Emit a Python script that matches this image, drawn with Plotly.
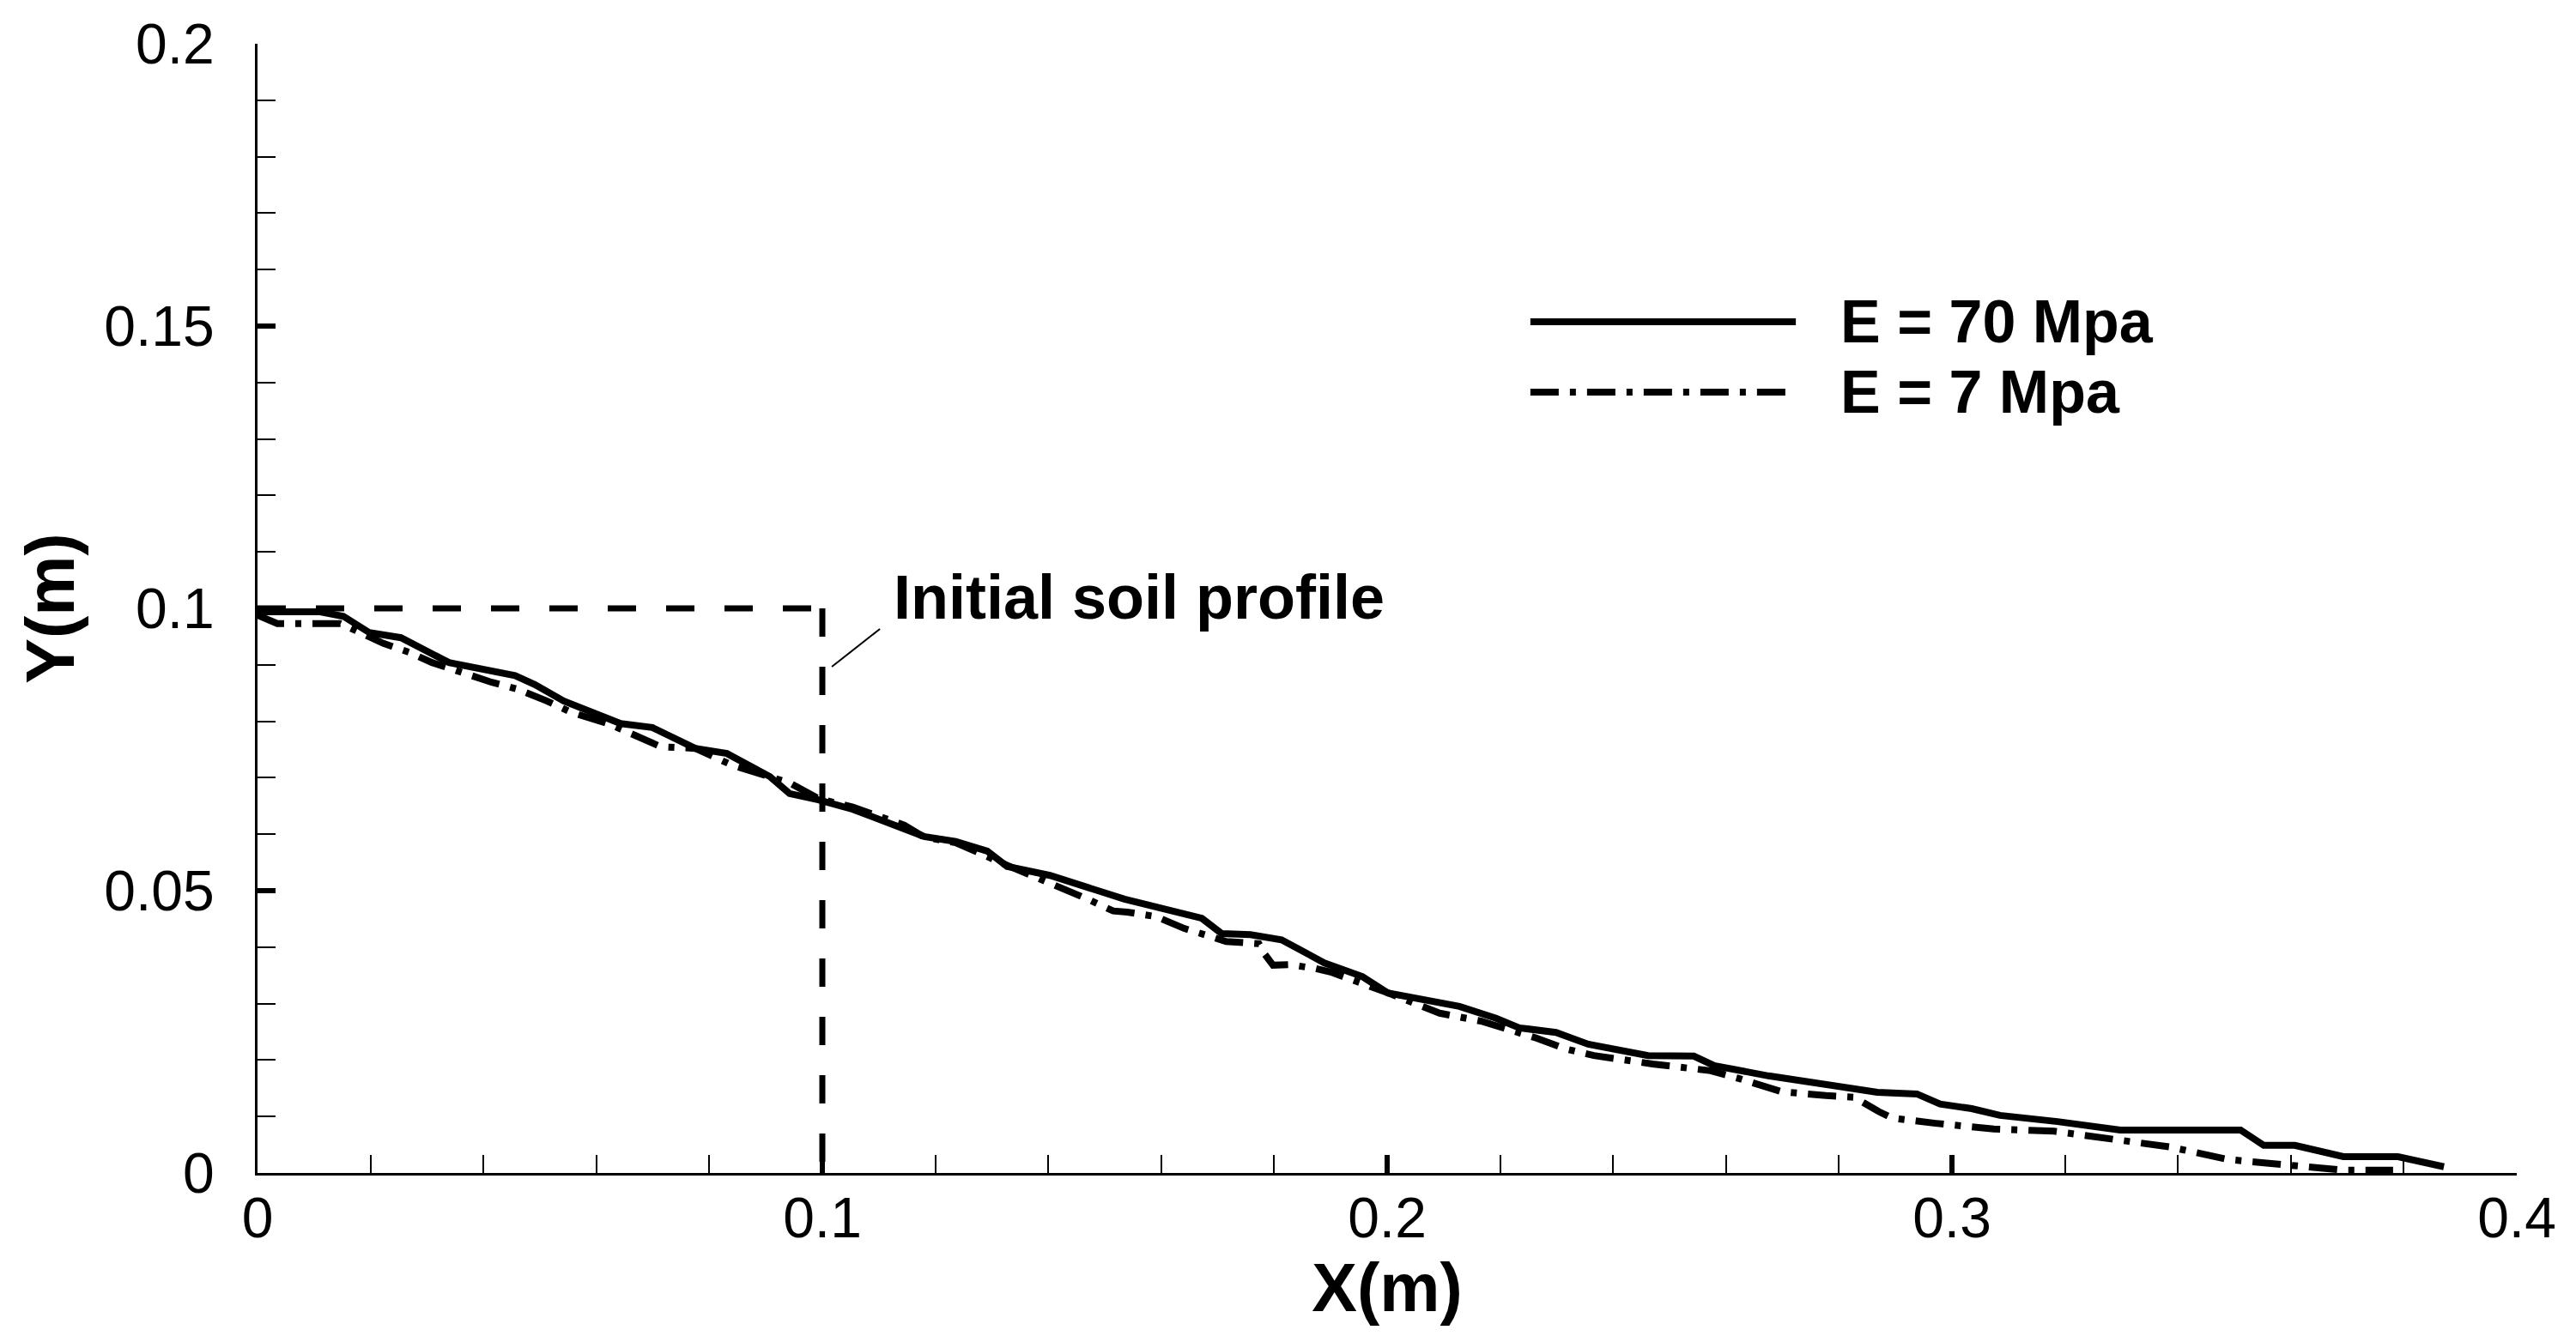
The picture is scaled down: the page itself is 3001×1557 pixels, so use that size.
import plotly.graph_objects as go

# ---- data ----
x_e70 = [0, 0.0111, 0.0152, 0.0198, 0.0254, 0.0339, 0.0456, 0.0491, 0.0542, 0.0623, 0.0643, 0.0699,
         0.0775, 0.0831, 0.0907, 0.0942, 0.0993, 0.1054, 0.1145, 0.118, 0.1236, 0.1292, 0.1327, 0.1403,
         0.1535, 0.1672, 0.1707, 0.1758, 0.1813, 0.1889, 0.1956, 0.2001, 0.2128, 0.2193, 0.2234, 0.2299,
         0.2356, 0.2462, 0.2543, 0.2579, 0.2675, 0.2816, 0.2868, 0.2938, 0.2979, 0.3035, 0.3085, 0.3187,
         0.3298, 0.3511, 0.3552, 0.3607, 0.3693, 0.3789, 0.3871]
y_e70 = [0.0994, 0.0994, 0.0986, 0.0957, 0.0948, 0.0904, 0.0881, 0.0865, 0.0836, 0.0804, 0.0796, 0.0789,
         0.0752, 0.0743, 0.0702, 0.0672, 0.0661, 0.0644, 0.0611, 0.0596, 0.0587, 0.057, 0.0543, 0.0527,
         0.0485, 0.0451, 0.0424, 0.0422, 0.0413, 0.0372, 0.0348, 0.0319, 0.0295, 0.0274, 0.0257, 0.0249,
         0.0228, 0.0208, 0.0207, 0.019, 0.0172, 0.015, 0.0143, 0.014, 0.0122, 0.0114, 0.0102, 0.0091,
         0.0076, 0.0076, 0.0049, 0.0049, 0.0029, 0.0029, 0.0011]

x_e7 = [0, 0.0035, 0.0147, 0.0223, 0.0269, 0.0309, 0.0415, 0.046, 0.0512, 0.0555, 0.0623, 0.0714,
        0.0775, 0.0841, 0.0942, 0.0993, 0.1054, 0.1145, 0.118, 0.1236, 0.1327, 0.1418, 0.147, 0.1515,
        0.154, 0.1591, 0.1641, 0.169, 0.1715, 0.1773, 0.1783, 0.1798, 0.1827, 0.1874, 0.19, 0.2001,
        0.2062, 0.2093, 0.2166, 0.2264, 0.2315, 0.2366, 0.247, 0.2573, 0.2624, 0.2672, 0.2698, 0.2777,
        0.2827, 0.287, 0.2895, 0.2971, 0.3074, 0.3181, 0.3283, 0.3386, 0.3488, 0.3591, 0.3693, 0.3781]
y_e7 = [0.0988, 0.0973, 0.0973, 0.0938, 0.0922, 0.0904, 0.0869, 0.0857, 0.0836, 0.0816, 0.0795, 0.0755,
        0.0752, 0.0722, 0.0691, 0.0663, 0.0648, 0.0616, 0.0595, 0.0585, 0.0545, 0.0508, 0.0485, 0.0464,
        0.0462, 0.0454, 0.0433, 0.0418, 0.041, 0.0406, 0.0388, 0.0368, 0.0369, 0.0362, 0.0356, 0.0319,
        0.0295, 0.0283, 0.0269, 0.0239, 0.022, 0.0208, 0.0193, 0.0181, 0.0167, 0.0152, 0.0144, 0.0137,
        0.0134, 0.0109, 0.0097, 0.0088, 0.0078, 0.0074, 0.0061, 0.0046, 0.0024, 0.0015, 0.0005, 0.0005]

x_initial = [0, 0.1, 0.1]
y_initial = [0.1, 0.1, 0]

x_tickvals = [0, 0.1, 0.2, 0.3, 0.4]
x_ticklabels = ["0", "0.1", "0.2", "0.3", "0.4"]
y_tickvals = [0, 0.05, 0.1, 0.15, 0.2]
y_ticklabels = ["0", "0.05", "0.1", "0.15", "0.2"]

series_names = ["E = 70 Mpa", "E = 7 Mpa"]
annotation_text = "Initial soil profile"

FONT = "Liberation Sans, Arial, Helvetica, sans-serif"
DASHDOT = "33px,13px,7px,13px"

fig = go.Figure()

# initial soil profile (two segments so each starts with a dash)
fig.add_trace(go.Scatter(x=x_initial[0:2], y=y_initial[0:2], mode="lines",
                         line=dict(color="black", width=7, dash="33px,35px"), showlegend=False))
fig.add_trace(go.Scatter(x=x_initial[1:3], y=y_initial[1:3], mode="lines",
                         line=dict(color="black", width=7, dash="33px,35px"), showlegend=False))

fig.add_trace(go.Scatter(x=x_e7, y=y_e7, mode="lines", name=series_names[1],
                         line=dict(color="black", width=8, dash=DASHDOT), showlegend=False))
fig.add_trace(go.Scatter(x=x_e70, y=y_e70, mode="lines", name=series_names[0],
                         line=dict(color="black", width=8), showlegend=False))

# manual legend (long line samples like the reference)
leg_x0, leg_x1 = 0.5634, 0.6809
leg_y = [0.7538, 0.6915]
fig.add_shape(type="line", xref="paper", yref="paper", x0=leg_x0, x1=leg_x1, y0=leg_y[0], y1=leg_y[0],
              line=dict(color="black", width=8))
fig.add_shape(type="line", xref="paper", yref="paper", x0=leg_x0, x1=leg_x1, y0=leg_y[1], y1=leg_y[1],
              line=dict(color="black", width=8, dash=DASHDOT))
for name, yy in zip(series_names, leg_y):
    fig.add_annotation(xref="paper", yref="paper", x=0.6998, y=yy, xanchor="left", yanchor="middle",
                       text=name, showarrow=False,
                       font=dict(family=FONT, size=70, color="black", weight="bold"))

# "Initial soil profile" label with pointer
fig.add_annotation(xref="paper", yref="paper", x=0.2808, y=0.51, xanchor="left", yanchor="middle",
                   text=annotation_text, showarrow=False,
                   font=dict(family=FONT, size=72, color="black", weight="bold"))
fig.add_shape(type="line", xref="paper", yref="paper", x0=0.2755, y0=0.4818, x1=0.2542, y1=0.4483,
              line=dict(color="black", width=2))

axis_common = dict(
    showgrid=False, zeroline=False, showline=True, linecolor="black", linewidth=3,
    ticks="inside", ticklen=21, tickwidth=6, tickcolor="black",
    tickfont=dict(family=FONT, size=66, color="black"),
)

fig.update_xaxes(range=[0, 0.4], tickvals=x_tickvals, ticktext=x_ticklabels,
                 minor=dict(ticks="inside", ticklen=21, tickwidth=2, tickcolor="black", dtick=0.02),
                 title=dict(text="X(m)", font=dict(family=FONT, size=79, color="black", weight="bold"),
                            standoff=2),
                 ticklabelstandoff=-7,
                 **axis_common)
fig.update_yaxes(range=[0, 0.2], tickvals=y_tickvals, ticktext=y_ticklabels,
                 minor=dict(ticks="inside", ticklen=21, tickwidth=2, tickcolor="black", dtick=0.01),
                 title=dict(text="Y(m)", font=dict(family=FONT, size=79, color="black", weight="bold"),
                            standoff=9),
                 ticklabelstandoff=34,
                 **axis_common)

fig.update_layout(
    width=2993, height=1549,
    margin=dict(l=292, r=69, t=43, b=190, autoexpand=False),
    paper_bgcolor="white", plot_bgcolor="white",
    showlegend=False,
)

fig.write_html("out.html")
